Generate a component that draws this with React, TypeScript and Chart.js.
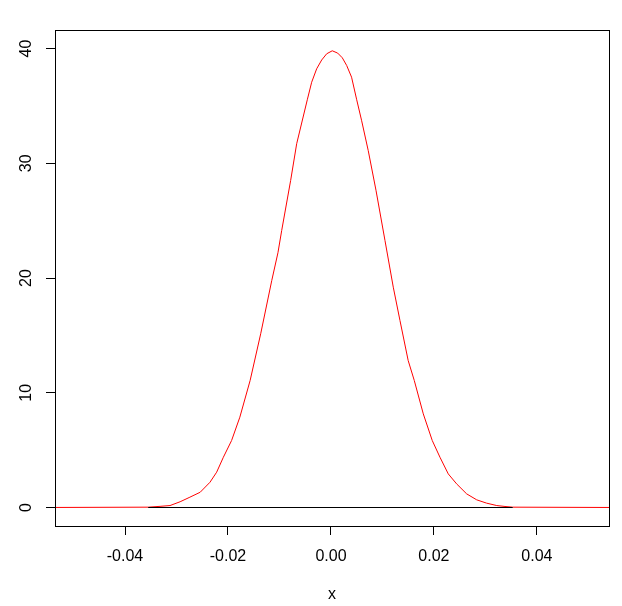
import React, { useEffect, useRef } from "react";
import { Chart, registerables } from "chart.js";

Chart.register(...registerables);

const curveX = [
  -0.056, -0.0355, -0.0332, -0.03126, -0.0293, -0.0274, -0.0254, -0.0235, -0.0222, -0.0209,
  -0.0193, -0.0177, -0.0157, -0.01365, -0.0115, -0.0103, -0.00957, -0.00783, -0.00666,
  -0.0046, -0.00375, -0.00278, -0.0018, -0.00083, 0.00025, 0.0013, 0.0022, 0.00305, 0.004,
  0.005, 0.00596, 0.00724, 0.00874, 0.01049, 0.0121, 0.0134, 0.015, 0.01618, 0.01793,
  0.01967, 0.02117, 0.02278, 0.0244, 0.02635, 0.0283, 0.03023, 0.0322, 0.0338, 0.0353, 0.056,
];
const curveY = [
  0, 0.03, 0.1, 0.17, 0.5, 0.9, 1.33, 2.2, 3.08, 4.38,
  5.84, 7.87, 11.07, 15.14, 19.78, 22.2, 24.14, 28.5, 31.7,
  35.53, 37.06, 38.23, 39.0, 39.54, 39.8, 39.6, 39.19, 38.52, 37.5,
  35.53, 33.7, 31.1, 27.65, 23.27, 19.2, 16.3, 12.8, 11.07, 8.16,
  5.84, 4.38, 2.93, 2.06, 1.19, 0.67, 0.38, 0.17, 0.09, 0.03, 0,
];
const baseX = [-0.0355, 0.0353];
const baseY = [0, 0];
const xTicks = [-0.04, -0.02, 0, 0.02, 0.04];
const xTickLabels = ["-0.04", "-0.02", "0.00", "0.02", "0.04"];
const yTicks = [0, 10, 20, 30, 40];
const yTickLabels = ["0", "10", "20", "30", "40"];

const FONT = "'Liberation Sans', Arial, sans-serif";

export default function App() {
  const ref = useRef<HTMLCanvasElement | null>(null);
  useEffect(() => {
    if (!ref.current) return;
    const boxPlugin = {
      id: "boxPlugin",
      afterDraw(chart: any) {
        const { ctx, chartArea } = chart;
        ctx.save();
        ctx.strokeStyle = "#000";
        ctx.lineWidth = 1;
        ctx.strokeRect(
          Math.round(chartArea.left) + 0.5,
          Math.round(chartArea.top) + 0.5,
          Math.round(chartArea.right - chartArea.left),
          Math.round(chartArea.bottom - chartArea.top)
        );
        const ys = chart.scales.y;
        ctx.fillStyle = "#000";
        ctx.font = "16px " + FONT;
        ctx.textAlign = "center";
        ctx.textBaseline = "middle";
        yTicks.forEach((v, i) => {
          const py = ys.getPixelForValue(v);
          ctx.save();
          ctx.translate(27, py);
          ctx.rotate(-Math.PI / 2);
          ctx.fillText(yTickLabels[i], 0, 0);
          ctx.restore();
        });
        ctx.restore();
      },
    };
    const chart = new Chart(ref.current, {
      type: "line",
      data: {
        datasets: [
          {
            data: baseX.map((x, i) => ({ x, y: baseY[i] })),
            borderColor: "#000",
            borderWidth: 1,
            pointRadius: 0,
            tension: 0,
          },
          {
            data: curveX.map((x, i) => ({ x, y: curveY[i] })),
            borderColor: "#ff0000",
            borderWidth: 1,
            pointRadius: 0,
            tension: 0,
          },
        ],
      },
      options: {
        animation: false,
        responsive: false,
        events: [],
        layout: { padding: { left: 0, right: 13, top: 30, bottom: 0 } },
        plugins: { legend: { display: false }, tooltip: { enabled: false } },
        scales: {
          x: {
            type: "linear",
            min: -0.0536,
            max: 0.054,
            afterBuildTicks: (s: any) => {
              s.ticks = xTicks.map((v) => ({ value: v }));
            },
            afterFit: (s: any) => {
              s.height = 80;
            },
            grid: { drawOnChartArea: false, drawTicks: true, tickLength: 9, color: "#000" },
            border: { display: true, color: "#000" },
            ticks: {
              color: "#000",
              font: { size: 16, family: FONT },
              padding: 12,
              maxRotation: 0,
              autoSkip: false,
              callback: (v: any) => {
                const i = xTicks.findIndex((t) => Math.abs(t - v) < 1e-9);
                return i >= 0 ? xTickLabels[i] : "";
              },
            },
            title: {
              display: true,
              text: "x",
              color: "#000",
              font: { size: 16, family: FONT },
              padding: { top: 0, bottom: 2 },
            },
          },
          y: {
            type: "linear",
            min: -1.612,
            max: 41.612,
            afterBuildTicks: (s: any) => {
              s.ticks = yTicks.map((v) => ({ value: v }));
            },
            afterFit: (s: any) => {
              s.width = 55;
            },
            grid: { drawOnChartArea: false, drawTicks: true, tickLength: 9, color: "#000" },
            border: { display: true, color: "#000" },
            ticks: { display: false },
          },
        },
      },
      plugins: [boxPlugin],
    });
    return () => chart.destroy();
  }, []);
  return (
    <div style={{ position: "fixed", left: 0, top: 0, width: 622, height: 606, background: "#fff" }}>
      <canvas ref={ref} width={622} height={606} style={{ width: 622, height: 606, display: "block" }} />
    </div>
  );
}
